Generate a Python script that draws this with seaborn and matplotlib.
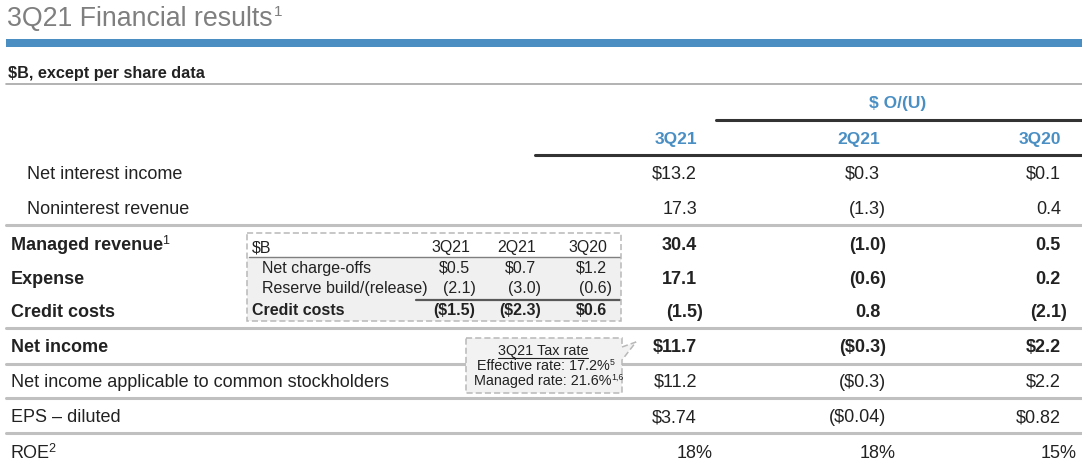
"""
Financial results summary table, drawn on a pixel-sized canvas.
"""

import matplotlib
matplotlib.use("Agg")
import matplotlib.pyplot as plt
import seaborn as sns
from matplotlib.patches import Rectangle, Polygon

# ---- main table data ----
row_labels = [
    "Net interest income",
    "Noninterest revenue",
    "Managed revenue",
    "Expense",
    "Credit costs",
    "Net income",
    "Net income applicable to common stockholders",
    "EPS \u2013 diluted",
    "ROE",
]
row_notes = ["", "", "1", "", "", "", "", "", "2"]
bold_rows = [False, False, True, True, True, True, False, False, False]
indent_rows = [True, True, False, False, False, False, False, False, False]

col_headers = ["3Q21", "2Q21", "3Q20"]
vals_3q21 = ["$13.2", "17.3", "30.4", "17.1", "(1.5)", "$11.7", "$11.2", "$3.74", "18%"]
vals_2q21 = ["$0.3", "(1.3)", "(1.0)", "(0.6)", "0.8", "($0.3)", "($0.3)", "($0.04)", "18%"]
vals_3q20 = ["$0.1", "0.4", "0.5", "0.2", "(2.1)", "$2.2", "$2.2", "$0.82", "15%"]

# ---- credit costs inset ----
inset_headers = ["3Q21", "2Q21", "3Q20"]
inset_labels = ["Net charge-offs", "Reserve build/(release)", "Credit costs"]
inset_3q21 = ["$0.5", "(2.1)", "($1.5)"]
inset_2q21 = ["$0.7", "(3.0)", "($2.3)"]
inset_3q20 = ["$1.2", "(0.6)", "$0.6"]

# ---- tax rate callout ----
tax_title = "3Q21 Tax rate"
tax_lines = ["Effective rate: 17.2%", "Managed rate: 21.6%"]
tax_notes = ["5", "1,6"]

# ---- layout (pixels) ----
W, H = 1082, 463
ROW_BASE = [179, 214, 250, 284, 317, 352, 387, 422, 458]
SEP_Y = [225, 328, 364, 398, 433]
COL_X = [697, 880, 1061]
INSET_X = [470, 536, 607]
INSET_BASE = [252, 273, 293, 315]

TEXT = "#222222"
BLUE = "#4a8fc4"
GREY_LINE = "#c0c0c0"


def text_width(ax, s, renderer, **kw):
    """Width of a string in data (pixel) units."""
    t = ax.text(0, 0, s, **kw)
    bb = t.get_window_extent(renderer).transformed(ax.transData.inverted())
    t.remove()
    return abs(bb.x1 - bb.x0)


def hang_text(ax, x, y, s, renderer, **kw):
    """Right-align a figure on x, letting a closing ')' or '%' hang past it."""
    if s[-1] in ")%":
        w = text_width(ax, s[:-1], renderer, **kw)
        ax.text(x - w, y, s, ha="left", va="baseline", **kw)
    else:
        ax.text(x, y, s, ha="right", va="baseline", **kw)


def add_note(ax, txt, note, size, renderer, gap=0.0, rise=0.0, **kw):
    """Put a small superscript note right after an existing text."""
    bb = txt.get_window_extent(renderer).transformed(ax.transData.inverted())
    top = min(bb.y0, bb.y1)
    ax.text(bb.x1 + gap, top + rise, note, fontsize=size, ha="left", va="top", **kw)


def draw_header(ax, renderer):
    t = ax.text(7, 26, "3Q21 Financial results", fontsize=19.3, color="#7f7f7f",
                va="baseline")
    add_note(ax, t, "1", 11, renderer, gap=1, rise=-1, color="#7f7f7f")
    ax.add_patch(Rectangle((6, 39), W - 6, 8, color="#4a8ec2", lw=0))
    ax.text(8, 78, "$B, except per share data", fontsize=11.7, weight="bold",
            color=TEXT, va="baseline")
    ax.plot([6, W], [84, 84], color="#a6a6a6", lw=1.2)

    ax.text(898, 108, "$ O/(U)", fontsize=12.5, weight="bold", color=BLUE,
            ha="center", va="baseline")
    ax.plot([716, W], [120, 120], color="#333333", lw=2.2)
    for x, h in zip(COL_X, col_headers):
        ax.text(x, 144, h, fontsize=12.5, weight="bold", color=BLUE,
                ha="right", va="baseline")
    ax.plot([535, W], [155, 155], color="#333333", lw=2.2)


def draw_rows(ax, renderer):
    for y in SEP_Y:
        ax.plot([6, W], [y, y], color=GREY_LINE, lw=2.2, zorder=1)

    for i, label in enumerate(row_labels):
        y = ROW_BASE[i]
        weight = "bold" if bold_rows[i] else "normal"
        x = 27 if indent_rows[i] else 11
        t = ax.text(x, y, label, fontsize=13, weight=weight, color=TEXT,
                    va="baseline")
        if row_notes[i]:
            add_note(ax, t, row_notes[i], 9, renderer, gap=-1.5, rise=-2, color=TEXT,
                     weight="normal")
        for x, col in zip(COL_X, [vals_3q21, vals_2q21, vals_3q20]):
            hang_text(ax, x, y, col[i], renderer, fontsize=13, weight=weight,
                      color=TEXT)


def draw_inset(ax, renderer):
    x0, x1, y0, y1 = 247, 621, 233, 321
    ax.add_patch(Rectangle((x0, y0), x1 - x0, y1 - y0, facecolor="white",
                           edgecolor="none", zorder=3))
    ax.add_patch(Rectangle((x0, 257), x1 - x0, y1 - 257, facecolor="#f0f0f0",
                           edgecolor="none", zorder=3))
    ax.add_patch(Rectangle((x0, y0), x1 - x0, y1 - y0, facecolor="none",
                           edgecolor="#b8b8b8", lw=1.1, linestyle=(0, (4, 2)),
                           zorder=5))
    ax.plot([249, 620], [257, 257], color="#7f7f7f", lw=1.0, zorder=4)
    ax.plot([416, 620], [300, 300], color="#595959", lw=1.6, zorder=4)

    kw = dict(fontsize=11.5, color=TEXT, zorder=4)
    ax.text(252, INSET_BASE[0], "$B", va="baseline", **kw)
    for x, h in zip(INSET_X, inset_headers):
        ax.text(x, INSET_BASE[0], h, ha="right", va="baseline", **kw)

    for i, label in enumerate(inset_labels):
        y = INSET_BASE[i + 1]
        last = i == len(inset_labels) - 1
        weight = "bold" if last else "normal"
        ax.text(252 if last else 262, y, label, va="baseline", weight=weight, **kw)
        for x, col in zip(INSET_X, [inset_3q21, inset_2q21, inset_3q20]):
            hang_text(ax, x, y, col[i], renderer, weight=weight, **kw)


def draw_callout(ax, renderer):
    pts = [(466, 338), (622, 338), (622, 347), (636, 342), (622, 360),
           (622, 393), (466, 393)]
    ax.add_patch(Polygon(pts, closed=True, facecolor="#f2f2f2", edgecolor="#b8b8b8",
                         lw=1.1, linestyle=(0, (4, 2)), zorder=3))
    cx = 543
    kw = dict(fontsize=10.4, color=TEXT, zorder=4)
    t = ax.text(cx, 355, tax_title, ha="center", va="baseline", **kw)
    bb = t.get_window_extent(renderer).transformed(ax.transData.inverted())
    ax.plot([bb.x0, bb.x1], [357.5, 357.5], color=TEXT, lw=0.8, zorder=4)
    for y, line, note in zip([370, 385], tax_lines, tax_notes):
        t = ax.text(cx, y, line, ha="center", va="baseline", **kw)
        add_note(ax, t, note, 6.3, renderer, gap=0.0, rise=-1, color=TEXT, zorder=4)


if __name__ == "__main__":
    sns.set_theme(style="white")
    plt.rcParams["font.family"] = ["Liberation Sans", "DejaVu Sans"]

    fig = plt.figure(figsize=(W / 100, H / 100), dpi=100)
    ax = fig.add_axes([0, 0, 1, 1])
    ax.set_xlim(0, W)
    ax.set_ylim(H, 0)
    ax.axis("off")
    renderer = fig.canvas.get_renderer()

    draw_header(ax, renderer)
    draw_rows(ax, renderer)
    draw_inset(ax, renderer)
    draw_callout(ax, renderer)

    fig.savefig("out.png", dpi=100, facecolor="white")
    plt.close(fig)
